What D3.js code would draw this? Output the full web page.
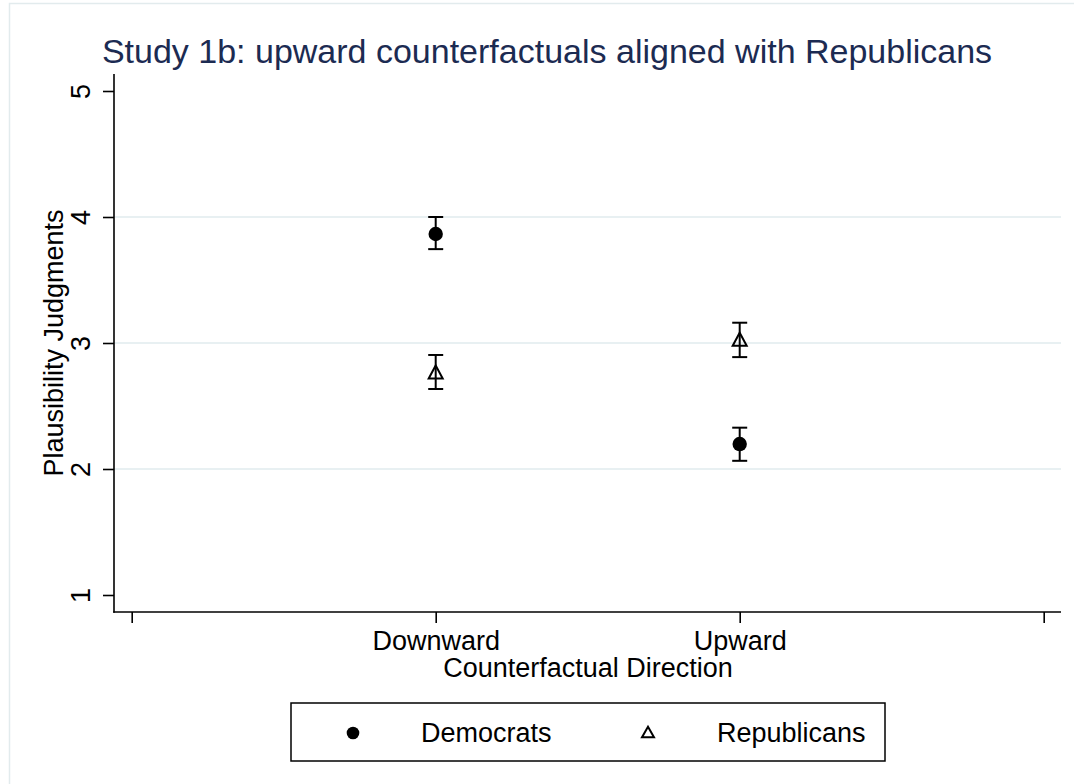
<!DOCTYPE html>
<html>
<head>
<meta charset="utf-8">
<script src="https://cdn.jsdelivr.net/npm/d3@7"></script>
<style>
  html, body { margin: 0; padding: 0; background: #fff; }
  svg { display: block; font-family: "Liberation Sans", Arial, Helvetica, sans-serif; }
</style>
</head>
<body>
<svg id="chart" width="1074" height="784"></svg>
<script>
// ---- data ----
const categories = ["Downward", "Upward"];
const categoryPositions = [1, 2];
const xTickValues = [0, 1, 2, 3];
const xTickLabels = ["", "Downward", "Upward", ""];
const yTickValues = [1, 2, 3, 4, 5];
const gridValues = [2, 3, 4];

const democratsMean = [3.865, 2.198];
const democratsLow  = [3.745, 2.065];
const democratsHigh = [4.000, 2.328];

const republicansMean = [2.770, 3.030];
const republicansLow  = [2.635, 2.888];
const republicansHigh = [2.905, 3.161];

const seriesNames = ["Democrats", "Republicans"];

// ---- layout ----
const W = 1074, H = 784;
const plot = { left: 114, right: 1061, top: 74, bottom: 612 };
const svg = d3.select("#chart");
const titleColor = "#1c2b52";
const gridColor = "#e8f0f2";

// outer graph border
svg.append("rect").attr("x", 9.5).attr("y", 3.5).attr("width", 1090).attr("height", 800)
  .attr("fill", "none").attr("stroke", "#e2ebed").attr("stroke-width", 1.5);

const x = d3.scaleLinear().domain([0, 3]).range([131.7, 1043.7]);
const y = d3.scaleLinear().domain([1, 5]).range([595, 91]);

// gridlines
svg.append("g").selectAll("line").data(gridValues).join("line")
  .attr("x1", plot.left).attr("x2", plot.right)
  .attr("y1", d => y(d)).attr("y2", d => y(d))
  .attr("stroke", gridColor).attr("stroke-width", 2);

// axes
const yAxis = d3.axisLeft(y).tickValues(yTickValues).tickSize(11).tickPadding(0).tickFormat(d3.format("d"));
const gy = svg.append("g").attr("transform", `translate(${plot.left},0)`).call(yAxis);
gy.select(".domain").remove();
gy.selectAll(".tick line").attr("stroke", "#000").attr("stroke-width", 1.6);
gy.selectAll(".tick text")
  .attr("x", 0).attr("y", 0).attr("dy", 0)
  .attr("transform", "translate(-24,0) rotate(-90)")
  .attr("text-anchor", "middle")
  .attr("font-size", 27).attr("fill", "#000")
  .attr("font-family", "Liberation Sans, Arial, sans-serif");

const xAxis = d3.axisBottom(x).tickValues(xTickValues).tickSize(11)
  .tickFormat((d, i) => xTickLabels[i]);
const gx = svg.append("g").attr("transform", `translate(0,${plot.bottom})`).call(xAxis);
gx.select(".domain").remove();
gx.selectAll(".tick line").attr("stroke", "#000").attr("stroke-width", 1.6);
gx.selectAll(".tick text").attr("y", 38).attr("dy", 0)
  .attr("font-size", 27).attr("fill", "#000")
  .attr("font-family", "Liberation Sans, Arial, sans-serif");

svg.append("line").attr("x1", plot.left).attr("x2", plot.left)
  .attr("y1", plot.top).attr("y2", plot.bottom + 0.8)
  .attr("stroke", "#000").attr("stroke-width", 1.6);
svg.append("line").attr("x1", plot.left - 0.8).attr("x2", plot.right)
  .attr("y1", plot.bottom).attr("y2", plot.bottom)
  .attr("stroke", "#000").attr("stroke-width", 1.6);

// titles
svg.append("text").attr("x", 547).attr("y", 63).attr("text-anchor", "middle")
  .attr("font-size", 34).attr("fill", titleColor)
  .text("Study 1b: upward counterfactuals aligned with Republicans");
svg.append("text").attr("transform", "translate(63,343) rotate(-90)")
  .attr("text-anchor", "middle").attr("font-size", 27).attr("fill", "#000")
  .text("Plausibility Judgments");
svg.append("text").attr("x", 588).attr("y", 677).attr("text-anchor", "middle")
  .attr("font-size", 27).attr("fill", "#000")
  .text("Counterfactual Direction");

// data marks
function errorBars(g, mean, lo, hi) {
  const d = categoryPositions.map((c, i) => ({ c, m: mean[i], lo: lo[i], hi: hi[i] }));
  const cap = 7.5;
  const eg = g.append("g").attr("stroke", "#000").attr("stroke-width", 2);
  eg.selectAll(".v").data(d).join("line")
    .attr("x1", p => x(p.c)).attr("x2", p => x(p.c))
    .attr("y1", p => y(p.lo)).attr("y2", p => y(p.hi));
  eg.selectAll(".t").data(d).join("line")
    .attr("x1", p => x(p.c) - cap).attr("x2", p => x(p.c) + cap)
    .attr("y1", p => y(p.hi)).attr("y2", p => y(p.hi));
  eg.selectAll(".b").data(d).join("line")
    .attr("x1", p => x(p.c) - cap).attr("x2", p => x(p.c) + cap)
    .attr("y1", p => y(p.lo)).attr("y2", p => y(p.lo));
  return d;
}
function trianglePath(cx, cy, w, h) {
  return `M${cx},${cy - h / 2}L${cx + w / 2},${cy + h / 2}L${cx - w / 2},${cy + h / 2}Z`;
}

const g = svg.append("g");
const rep = errorBars(g, republicansMean, republicansLow, republicansHigh);
g.selectAll(".tri").data(rep).join("path")
  .attr("d", p => trianglePath(x(p.c), y(p.m), 14, 13))
  .attr("fill", "none").attr("stroke", "#000").attr("stroke-width", 2);
const dem = errorBars(g, democratsMean, democratsLow, democratsHigh);
g.selectAll(".dot").data(dem).join("circle")
  .attr("cx", p => x(p.c)).attr("cy", p => y(p.m)).attr("r", 7.2).attr("fill", "#000");

// legend
const lg = svg.append("g");
lg.append("rect").attr("x", 291).attr("y", 703).attr("width", 594).attr("height", 58)
  .attr("fill", "#fff").attr("stroke", "#000").attr("stroke-width", 1.5);
lg.append("circle").attr("cx", 353).attr("cy", 733).attr("r", 6.3).attr("fill", "#000");
lg.append("text").attr("x", 421).attr("y", 742).attr("font-size", 27).attr("fill", "#000").text(seriesNames[0]);
lg.append("path").attr("d", trianglePath(648, 732, 12, 10.5))
  .attr("fill", "none").attr("stroke", "#000").attr("stroke-width", 2);
lg.append("text").attr("x", 717).attr("y", 742).attr("font-size", 27).attr("fill", "#000").text(seriesNames[1]);
</script>
</body>
</html>
